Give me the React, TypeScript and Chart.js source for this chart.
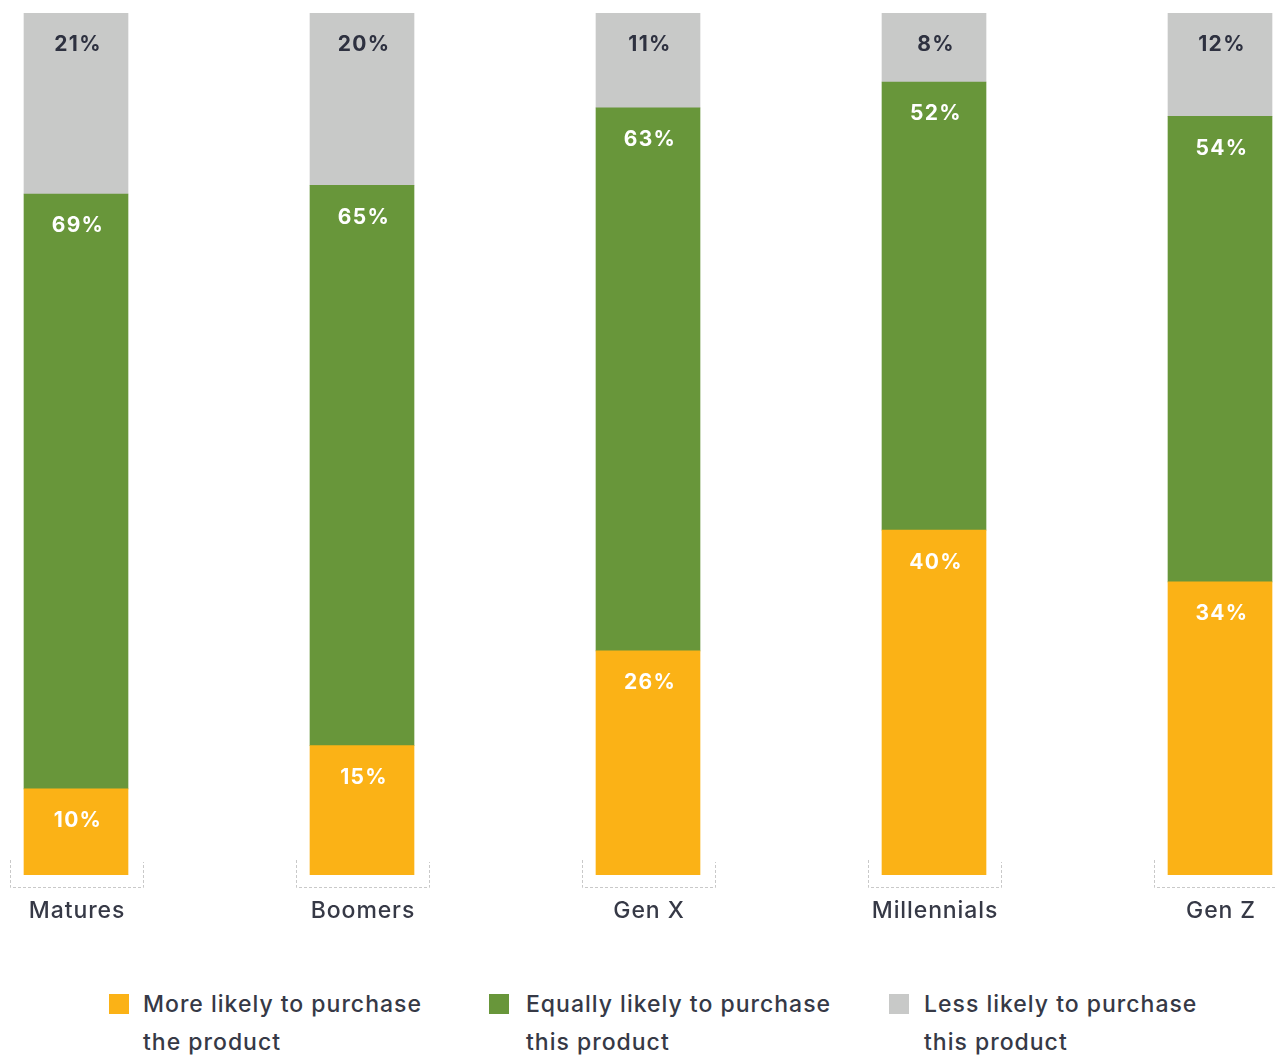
import React, { useEffect, useRef } from "react";
import { Chart, registerables } from "chart.js";

Chart.register(...registerables);

const categories = ["Matures", "Boomers", "Gen X", "Millennials", "Gen Z"];
const moreLikely = [10, 15, 26, 40, 34];
const equallyLikely = [69, 65, 63, 52, 54];
const lessLikely = [21, 20, 11, 8, 12];
const seriesNames = [
  "More likely to purchase the product",
  "Equally likely to purchase this product",
  "Less likely to purchase this product",
];
const legendLines = [
  ["More likely to purchase", "the product"],
  ["Equally likely to purchase", "this product"],
  ["Less likely to purchase", "this product"],
];
const colors = ["#FBB216", "#68963A", "#C8C9C8"];
const labelColors = ["#FFFFFF", "#FFFFFF", "#2E3140"];

const FONT = "Inter, 'Open Sans', 'DejaVu Sans', sans-serif";
const TEXT = "#363946";

const overlayPlugin = {
  id: "overlay",
  afterDatasetsDraw(chart: any) {
    const ctx = chart.ctx;
    const area = chart.chartArea;
    ctx.save();
    // value labels
    chart.data.datasets.forEach((ds: any, di: number) => {
      const meta = chart.getDatasetMeta(di);
      meta.data.forEach((bar: any, i: number) => {
        const top = Math.min(bar.y, bar.base);
        ctx.font = `700 21px ${FONT}`;
        (ctx as any).letterSpacing = "1.3px";
        ctx.fillStyle = labelColors[di];
        ctx.textAlign = "center";
        ctx.textBaseline = "middle";
        ctx.fillText(ds.data[i] + "%", bar.x + 2, top + 32);
      });
    });
    // brackets and category labels
    const meta0 = chart.getDatasetMeta(0);
    meta0.data.forEach((bar: any, i: number) => {
      const half = bar.width / 2;
      const l = bar.x - half - 14;
      const r = bar.x + half + 15;
      const b = area.bottom + 12;
      ctx.strokeStyle = "#C9C9C9";
      ctx.lineWidth = 1;
      ctx.setLineDash([3, 2]);
      ctx.beginPath();
      ctx.moveTo(l + 0.5, area.bottom - 15);
      ctx.lineTo(l + 0.5, b + 0.5);
      ctx.lineTo(r + 0.5, b + 0.5);
      ctx.lineTo(r + 0.5, area.bottom - 13);
      ctx.stroke();
      ctx.setLineDash([]);
      ctx.font = `500 23px ${FONT}`;
      (ctx as any).letterSpacing = "0.9px";
      ctx.fillStyle = TEXT;
      ctx.textAlign = "center";
      ctx.textBaseline = "middle";
      ctx.fillText(chart.data.labels[i], bar.x + 1, area.bottom + 36);
    });
    ctx.restore();
  },
};

export default function App() {
  const ref = useRef<HTMLCanvasElement | null>(null);
  useEffect(() => {
    if (!ref.current) return;
    const chart = new Chart(ref.current, {
      type: "bar",
      data: {
        labels: categories,
        datasets: [
          { label: seriesNames[0], data: moreLikely, backgroundColor: colors[0] },
          { label: seriesNames[1], data: equallyLikely, backgroundColor: colors[1] },
          { label: seriesNames[2], data: lessLikely, backgroundColor: colors[2] },
        ],
      },
      options: {
        responsive: false,
        animation: false,
        devicePixelRatio: 1,
        layout: { padding: { top: 13, bottom: 85, left: 0, right: 0 } },
        datasets: { bar: { barThickness: 104, borderWidth: 0 } },
        scales: {
          x: { stacked: true, display: false, offset: true },
          y: { stacked: true, display: false, min: 0, max: 100 },
        },
        plugins: { legend: { display: false }, tooltip: { enabled: false } },
      },
      plugins: [overlayPlugin],
    } as any);
    return () => chart.destroy();
  }, []);

  const squareLefts = [109, 489, 889];
  const textLefts = [143, 526, 924];

  return (
    <div
      style={{
        position: "absolute",
        left: 0,
        top: 0,
        width: 1277,
        height: 1055,
        overflow: "hidden",
        background: "#fff",
      }}
    >
      <canvas
        ref={ref}
        width={1430}
        height={960}
        style={{ position: "absolute", left: -67, top: 0, width: 1430, height: 960 }}
      />
      {legendLines.map((lines, i) => (
        <React.Fragment key={i}>
          <div
            style={{
              position: "absolute",
              left: squareLefts[i],
              top: 994,
              width: 20,
              height: 20,
              background: colors[i],
            }}
          />
          <div
            style={{
              position: "absolute",
              left: textLefts[i],
              top: 985,
              fontFamily: FONT,
              fontWeight: 500,
              fontSize: 23,
              lineHeight: "38px",
              letterSpacing: "1px",
              color: TEXT,
              whiteSpace: "nowrap",
            }}
          >
            {lines[0]}
            <br />
            {lines[1]}
          </div>
        </React.Fragment>
      ))}
    </div>
  );
}
